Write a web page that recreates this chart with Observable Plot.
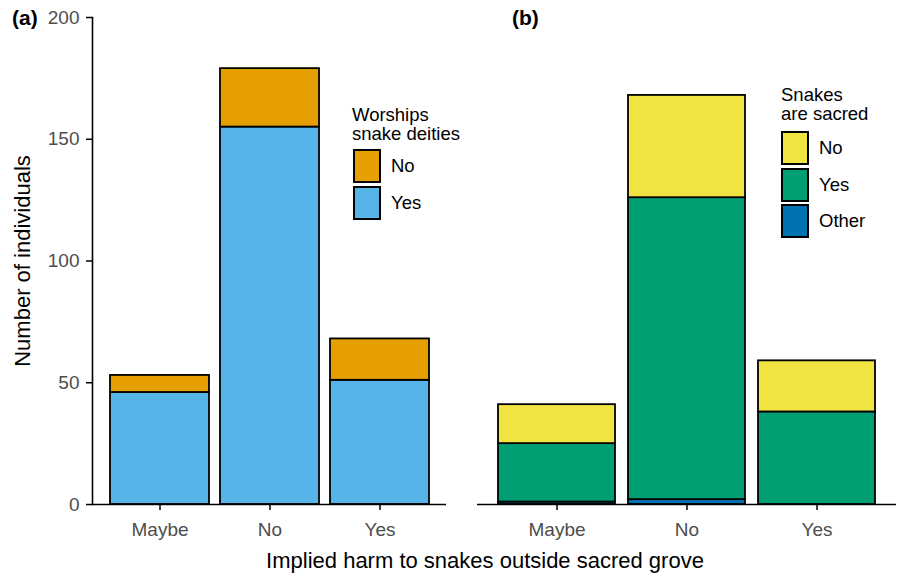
<!DOCTYPE html>
<html>
<head>
<meta charset="utf-8">
<script src="https://cdn.jsdelivr.net/npm/d3@7"></script>
<script src="https://cdn.jsdelivr.net/npm/@observablehq/plot@0.6"></script>
<style>
  html, body { margin: 0; padding: 0; background: #fff; }
  #fig { position: relative; width: 898px; height: 576px; font-family: "Liberation Sans", Arial, sans-serif; }
  #fig svg { position: absolute; top: 0; overflow: visible; }
  .t { position: absolute; white-space: pre; color: #000; }
  .key { position: absolute; box-sizing: border-box; border: 2px solid #000; width: 28px; }
</style>
</head>
<body>
<div id="fig"></div>
<script>
// ---- data ----
const categories = ["Maybe", "No", "Yes"];
// panel (a): worships snake deities
const worshipYes = [46, 155, 51];
const worshipNo = [7, 24, 17];
// panel (b): snakes are sacred
const sacredOther = [1, 2, 0];
const sacredYes = [24, 124, 38];
const sacredNo = [16, 42, 21];
const yTicks = [0, 50, 100, 150, 200];

const colorsA = {No: "#E69F00", Yes: "#56B4E9"};
const colorsB = {No: "#F0E442", Yes: "#009E73", Other: "#0072B2"};

const rowsA = [];
categories.forEach((c, i) => {
  rowsA.push({cat: c, group: "Yes", value: worshipYes[i]});
  rowsA.push({cat: c, group: "No", value: worshipNo[i]});
});
const rowsB = [];
categories.forEach((c, i) => {
  if (sacredOther[i] > 0) rowsB.push({cat: c, group: "Other", value: sacredOther[i]});
  rowsB.push({cat: c, group: "Yes", value: sacredYes[i]});
  rowsB.push({cat: c, group: "No", value: sacredNo[i]});
});

const fig = document.getElementById("fig");
const FONT = "Liberation Sans, Arial, sans-serif";

const axisXOpts = {tickSize: 6, tickPadding: 12, fontSize: 19, fill: "#4d4d4d", stroke: "#000", strokeWidth: 1.5, label: null};

const plotA = Plot.plot({
  width: 460, height: 576,
  marginLeft: 92, marginRight: 14, marginTop: 17, marginBottom: 72,
  style: {fontFamily: FONT, fontSize: "19px", background: "transparent", overflow: "visible"},
  x: {domain: categories, paddingInner: 0.1, paddingOuter: 0.15, label: null},
  y: {domain: [0, 200], label: null},
  color: {domain: Object.keys(colorsA), range: Object.values(colorsA)},
  marks: [
    Plot.barY(rowsA, {x: "cat", y: "value", fill: "group", stroke: "#000", strokeWidth: 1.8}),
    Plot.axisY({ticks: yTicks, tickSize: 6, tickPadding: 7, fontSize: 19, fill: "#4d4d4d", stroke: "#000", strokeWidth: 1.5, label: null}),
    Plot.axisX(axisXOpts),
    Plot.frame({anchor: "left", stroke: "#000", strokeWidth: 1.6}),
    Plot.ruleY([0], {stroke: "#000", strokeWidth: 1.6})
  ]
});
plotA.style.left = "0px";
fig.appendChild(plotA);

const plotB = Plot.plot({
  width: 438, height: 576,
  marginLeft: 17, marginRight: 2, marginTop: 17, marginBottom: 72,
  style: {fontFamily: FONT, fontSize: "19px", background: "transparent", overflow: "visible"},
  x: {domain: categories, paddingInner: 0.1, paddingOuter: 0.15, label: null},
  y: {domain: [0, 200], label: null, axis: null},
  color: {domain: Object.keys(colorsB), range: Object.values(colorsB)},
  marks: [
    Plot.barY(rowsB, {x: "cat", y: "value", fill: "group", stroke: "#000", strokeWidth: 1.8}),
    Plot.axisX(axisXOpts),
    Plot.ruleY([0], {stroke: "#000", strokeWidth: 1.6})
  ]
});
plotB.style.left = "460px";
fig.appendChild(plotB);

// ---- text helpers ----
function text(str, x, baseline, fs, opts = {}) {
  const lh = opts.lh || fs * 1.2;
  const d = document.createElement("div");
  d.className = "t";
  d.textContent = str;
  d.style.fontSize = fs + "px";
  d.style.lineHeight = lh + "px";
  if (opts.bold) d.style.fontWeight = "bold";
  const top = baseline - ((lh - 1.117 * fs) / 2 + 0.905 * fs);
  d.style.top = top + "px";
  if (opts.center) {
    d.style.left = (x - 400) + "px";
    d.style.width = "800px";
    d.style.textAlign = "center";
  } else {
    d.style.left = x + "px";
  }
  fig.appendChild(d);
  return d;
}
function key(color, x, y, h) {
  const k = document.createElement("div");
  k.className = "key";
  k.style.left = x + "px";
  k.style.top = y + "px";
  k.style.height = h + "px";
  k.style.background = color;
  fig.appendChild(k);
}

// panel tags
text("(a)", 12, 25, 21, {bold: true});
text("(b)", 512, 25, 21, {bold: true});

// x title
text("Implied harm to snakes outside sacred grove", 485, 569, 22, {center: true});

// y title (rotated)
{
  const d = document.createElement("div");
  d.className = "t";
  d.textContent = "Number of individuals";
  d.style.fontSize = "22px";
  d.style.lineHeight = "22px";
  d.style.width = "400px";
  d.style.textAlign = "center";
  d.style.left = (23.4 - 200) + "px";
  d.style.top = (260.5 - 11) + "px";
  d.style.transform = "rotate(-90deg)";
  d.style.transformOrigin = "50% 50%";
  fig.appendChild(d);
}

// legend (a)
text("Worships\nsnake deities", 352, 120.5, 18.5, {lh: 19});
key(colorsA.No, 353, 149, 34);
key(colorsA.Yes, 353, 185.5, 34);
text("No", 391, 172.8, 18.5);
text("Yes", 391, 209.3, 18.5);

// legend (b)
text("Snakes\nare sacred", 781, 101, 18.5, {lh: 19.5});
key(colorsB.No, 781, 131, 34);
key(colorsB.Yes, 781, 167.5, 34);
key(colorsB.Other, 781, 204, 34);
text("No", 819, 155, 18.5);
text("Yes", 819, 191.7, 18.5);
text("Other", 819, 227.8, 18.5);
</script>
</body>
</html>
